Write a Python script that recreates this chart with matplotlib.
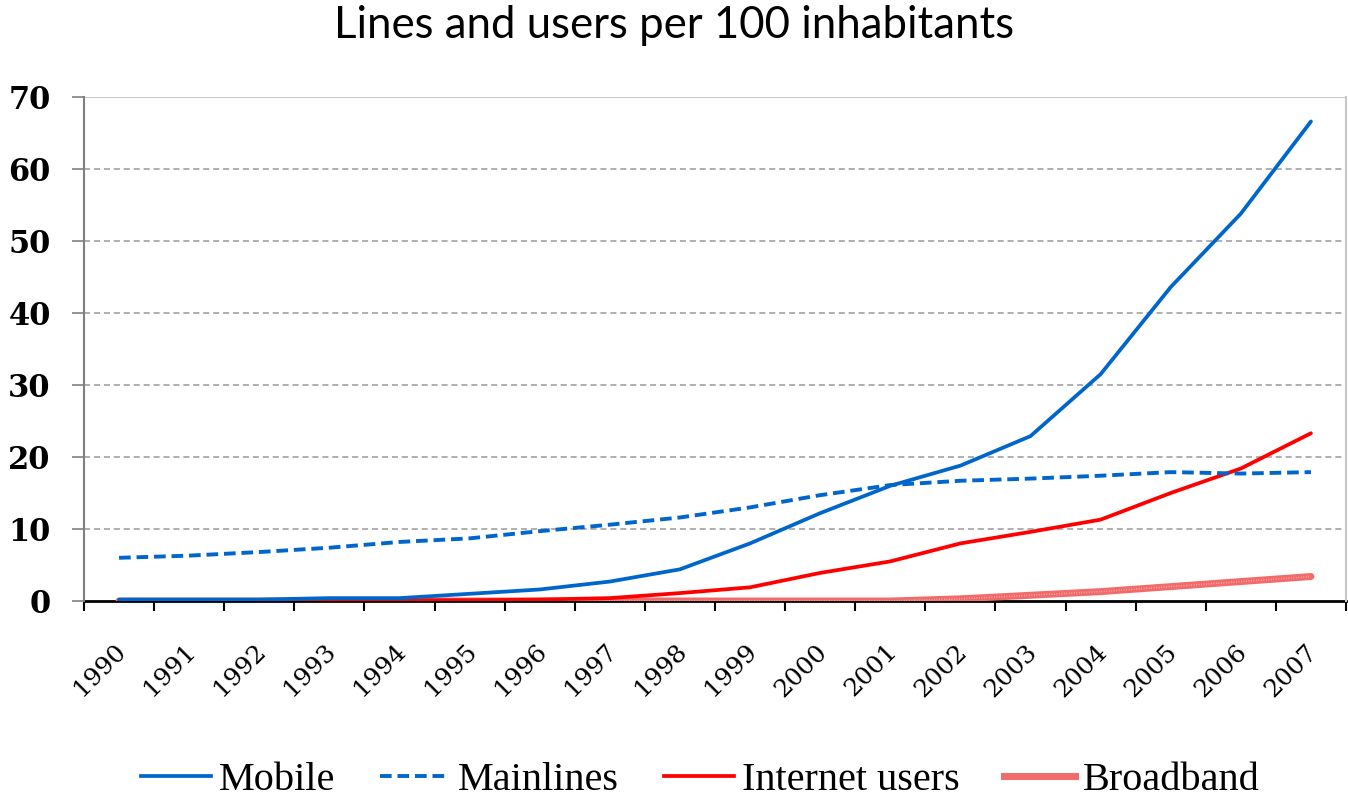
import matplotlib
matplotlib.use("Agg")
import matplotlib.pyplot as plt
from matplotlib.lines import Line2D
from matplotlib.transforms import ScaledTranslation
import numpy as np

years = [str(y) for y in range(1990, 2008)]
mobile = [0.2, 0.2, 0.2, 0.4, 0.4, 1.0, 1.6, 2.7, 4.4, 8.0, 12.2, 16.0, 18.8, 22.9, 31.5, 43.6, 53.8, 66.6]
mainlines = [6.0, 6.3, 6.8, 7.4, 8.2, 8.7, 9.7, 10.6, 11.6, 13.0, 14.7, 16.1, 16.7, 17.0, 17.4, 17.9, 17.7, 17.9]
internet = [0.0, 0.0, 0.0, 0.0, 0.1, 0.1, 0.2, 0.4, 1.1, 1.9, 3.9, 5.5, 8.0, 9.6, 11.3, 15.0, 18.4, 23.3]
broadband = [0.0, 0.0, 0.0, 0.0, 0.0, 0.0, 0.0, 0.0, 0.0, 0.0, 0.0, 0.0, 0.3, 0.8, 1.3, 2.0, 2.7, 3.4]
y_ticks = [0, 10, 20, 30, 40, 50, 60, 70]

BLUE = "#0066CC"
RED = "#FF0000"
PINK = "#F26A6A"

W, H = 1348, 801
fig = plt.figure(figsize=(W / 100, H / 100), dpi=100)
ax = fig.add_axes([84 / W, (H - 601) / H, (1346 - 84) / W, (601 - 97) / H])

x = np.arange(len(years))
ax.plot(x, broadband, color=PINK, lw=5.0, solid_capstyle="round", zorder=3)
ax.plot(x, broadband, color="white", lw=1.2, ls=(0, (0.5, 1.0)), alpha=0.45, zorder=3)
ax.plot(x, internet, color=RED, lw=2.7, solid_capstyle="round", zorder=4)
ax.plot(x, mainlines, color=BLUE, lw=2.8, ls=(0, (3.0, 1.5)), zorder=5)
ax.plot(x, mobile, color=BLUE, lw=2.7, solid_capstyle="round", zorder=6)

ax.set_xlim(-0.5, len(years) - 0.5)
ax.set_ylim(0, 70)

# y axis
ax.set_yticks(y_ticks)
ax.set_yticklabels([str(v) for v in y_ticks], family="DejaVu Serif", fontsize=22,
                   fontweight="bold")
ax.tick_params(axis="y", length=9, width=1.2, color="#808080", pad=15)
for v in y_ticks[1:-1]:
    ax.axhline(v, color="#9a9a9a", lw=1.1, ls=(0, (4, 2.5)), zorder=1)
ax.axhline(70, color="#c8c8c8", lw=1.5, zorder=1)

# x axis: labels at category centres, ticks at category boundaries
ax.set_xticks(x)
ax.set_xticklabels(years, family="DejaVu Serif", fontsize=18, rotation=45,
                   ha="right", rotation_mode="anchor")
ax.tick_params(axis="x", which="major", length=0, pad=28)
shift = ScaledTranslation(-5 / 100, 0, fig.dpi_scale_trans)
for lbl in ax.get_xticklabels():
    lbl.set_transform(lbl.get_transform() + shift)
ax.set_xticks(np.arange(-0.5, len(years)), minor=True)
ax.tick_params(axis="x", which="minor", length=7, width=1.5, color="black", direction="out")

ax.spines["top"].set_visible(False)
ax.spines["right"].set_color("#c8c8c8")
ax.spines["right"].set_linewidth(1.5)
ax.spines["left"].set_color("#808080")
ax.spines["left"].set_linewidth(1.5)
ax.spines["bottom"].set_color("black")
ax.spines["bottom"].set_linewidth(2.0)
ax.spines["bottom"].set_zorder(2)

fig.text(0.5, 1 - 25 / H, "Lines and users per 100 inhabitants", ha="center", va="center",
         family="Lato", fontsize=31.5)

handles = [
    Line2D([], [], color=BLUE, lw=2.7),
    Line2D([], [], color=BLUE, lw=2.8, ls=(0, (3.0, 1.5))),
    Line2D([], [], color=RED, lw=2.7),
    Line2D([], [], color=PINK, lw=5.0),
]
labels = ["Mobile", "Mainlines", "Internet users", "Broadband"]
fig.legend(handles, labels, loc="center", bbox_to_anchor=(700 / W, 1 - 780 / H), ncol=4,
           frameon=False, prop={"family": "Liberation Serif", "size": 29},
           handlelength=1.75, handletextpad=0.2, columnspacing=1.1)

fig.savefig("out.png", dpi=100, facecolor="white")
